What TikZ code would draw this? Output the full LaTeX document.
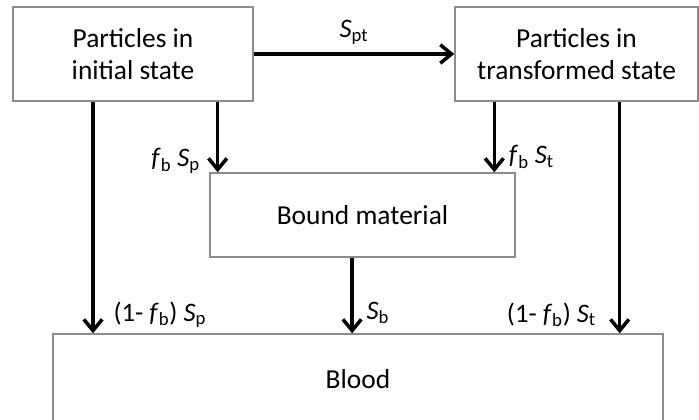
\documentclass[tikz,border=0pt]{standalone}
\usepackage{fontspec}
\setmainfont{Carlito}
\usetikzlibrary{arrows.meta}

\tikzset{
    boite/.style={draw=gray!90, line width=1pt, text=black, align=center,
        inner sep=0pt, font=\fontsize{19.5}{22.5}\selectfont},
    flux/.style={black, line width=2.5pt, -{Straight Barb[length=2.8mm, width=4.6mm, line width=2.5pt]}},
    etiq/.style={text=black, inner sep=0pt, font=\fontsize{19}{22}\selectfont}
}

\begin{document}
\begin{tikzpicture}
    % Cadre
    \useasboundingbox (0,0) rectangle (17.475,10.475);

    % Boites
    \node[boite, minimum width=6cm, minimum height=2.35cm] (init) at (3.325,9.125) {Particles in\\initial state};
    \node[boite, minimum width=6.075cm, minimum height=2.35cm] (trans) at (14.4125,9.125) {Particles in\\transformed state};
    \node[boite, minimum width=7.625cm, minimum height=2.1cm] (bound) at (9.0625,5.1) {Bound material};
    \node[boite, minimum width=15.25cm, minimum height=2.25cm] (blood) at (8.95,1.0) {Blood};

    % Fleches
    \draw[flux] (init.east) -- node[etiq, above=0.2cm] {\textit{S}\textsubscript{pt}} (trans.west);
    \draw[flux] ([xshift=-0.9cm]init.south east) -- ([xshift=-0.9cm]init.south east |- bound.north)
        node[etiq, pos=0.84, left=0.4cm] {\textit{f}\textsubscript{b} \textit{S}\textsubscript{p}};
    \draw[flux] ([xshift=1cm]trans.south west) -- ([xshift=1cm]trans.south west |- bound.north)
        node[etiq, pos=0.78, right=0.32cm] {\textit{f}\textsubscript{b} \textit{S}\textsubscript{t}};
    \draw[flux] ([xshift=-1cm]init.south) -- ([xshift=-1cm]init.south |- blood.north)
        node[etiq, pos=0.92, right=0.47cm] {(1- \textit{f}\textsubscript{b}) \textit{S}\textsubscript{p}};
    \draw[flux] ([xshift=-1.975cm]trans.south east) -- ([xshift=-1.975cm]trans.south east |- blood.north)
        node[etiq, pos=0.92, left=0.55cm] {(1- \textit{f}\textsubscript{b}) \textit{S}\textsubscript{t}};
    \draw[flux] ([xshift=-0.26cm]bound.south) -- ([xshift=-0.26cm]bound.south |- blood.north)
        node[etiq, pos=0.73, right=0.32cm] {\textit{S}\textsubscript{b}};

\end{tikzpicture}
\end{document}
